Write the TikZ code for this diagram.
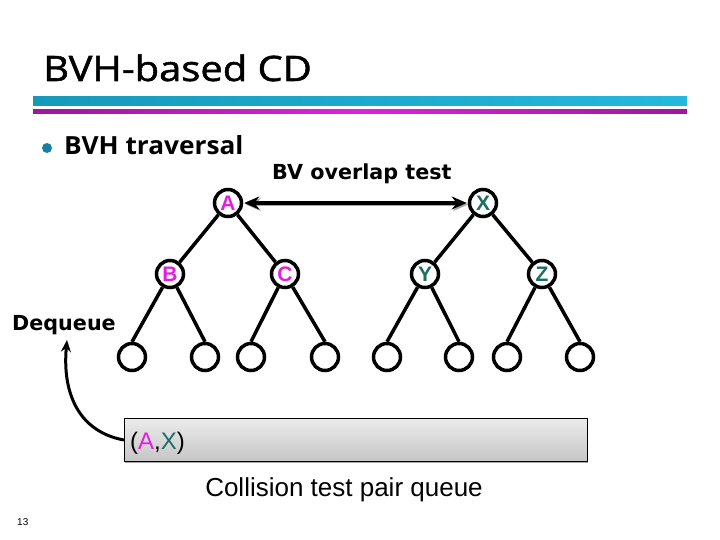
\documentclass[tikz,border=0pt]{standalone}
\usepackage{fontspec}
\setmainfont{Liberation Sans}
\newfontfamily\titlefont[FakeStretch=1.14,FakeBold=1.5]{Open Sans}
\newfontfamily\bulfont[FakeStretch=1.05]{Open Sans}
\newfontfamily\verd{DejaVu Sans}
\usetikzlibrary{arrows.meta,shadings}
\definecolor{mag}{HTML}{E020E0}
\definecolor{tea}{HTML}{1E6E64}
\definecolor{cyb}{HTML}{19B5DB}
\definecolor{bul}{HTML}{1A7FA0}
\tikzset{
  tnode/.style={circle,draw=black,line width=3.5pt,minimum size=27pt,inner sep=0pt,fill=white,font=\bfseries\fontsize{21}{21}\selectfont},
  leaf/.style={circle,draw=black,line width=3.5pt,minimum size=27pt,inner sep=0pt,fill=white},
  edge/.style={line width=3.5pt,black},
  lbl/.style={font=\verd\bfseries\fontsize{20.7}{22}\selectfont,inner sep=0pt}
}
\begin{document}
\begin{tikzpicture}[x=1pt,y=-1pt]
\useasboundingbox (0,0) rectangle (720,540);
\fill[white] (0,0) rectangle (720,540);
% title
\node[anchor=base west,inner sep=0pt,font=\titlefont\fontsize{35}{40}\selectfont] (title) at (43,81) {BVH-based CD};
\shade[left color=cyb!85!black,right color=cyb!95!white] (33,97) rectangle (687,106);
\shade[left color=mag!70!black,right color=mag!70!black,middle color=mag] (33,110) rectangle (687,114);
% bullet
\fill[bul] (47,148) circle (5);
\node[anchor=base west,inner sep=0pt,font=\bulfont\bfseries\fontsize{25}{28}\selectfont] (bul) at (64,155) {BVH traversal};
% tree
\node[tnode,text=mag] (A) at (228,203) {A};
\node[tnode,text=tea] (X) at (483,203) {X};
\node[tnode,text=mag] (B) at (170,274) {B};
\node[tnode,text=mag] (C) at (285,274) {C};
\node[tnode,text=tea] (Y) at (425,274) {Y};
\node[tnode,text=tea] (Z) at (542,274) {Z};
\foreach \n/\x in {l1/132,l2/205,l3/251,l4/325,l5/387,l6/459,l7/507,l8/580}
  \node[leaf] (\n) at (\x,357) {};
\draw[edge] (A) -- (B); \draw[edge] (A) -- (C);
\draw[edge] (X) -- (Y); \draw[edge] (X) -- (Z);
\draw[edge] (B) -- (l1.north); \draw[edge] (B) -- (l2.north);
\draw[edge] (C) -- (l3.north); \draw[edge] (C) -- (l4.north);
\draw[edge] (Y) -- (l5.north); \draw[edge] (Y) -- (l6.north);
\draw[edge] (Z) -- (l7.north); \draw[edge] (Z) -- (l8.north);
% overlap arrow
\draw[line width=3.5pt,gray!70,{Stealth[length=15pt,width=13pt]}-{Stealth[length=15pt,width=13pt]},shorten <=1pt,shorten >=1pt] ([shift={(1.5,1.5)}]A.east) -- ([shift={(1.5,1.5)}]X.west);
\draw[line width=3.5pt,black,{Stealth[length=15pt,width=13pt]}-{Stealth[length=15pt,width=13pt]},shorten <=1pt,shorten >=1pt] (A.east) -- (X.west);
\node[lbl,anchor=base west] (bvo) at (272,180) {BV overlap test};
% queue
\fill[gray!70] (125,421) rectangle (588,463);
\shade[top color=gray!15,bottom color=gray!45,draw=black,line width=0.8pt] (124,418) rectangle (587,461);
\node[anchor=base west,inner sep=0pt,font=\fontsize{24}{26}\selectfont] (pair) at (130,449) {(\textcolor{mag}{A},\textcolor{tea}{X})};
\coordinate (qw) at (124,440);
\node[anchor=base,inner sep=0pt,font=\fontsize{26}{28}\selectfont] (cap) at (344,496) {Collision test pair queue};
\node[lbl,anchor=base west] (deq) at (12,330) {Dequeue};
\coordinate (dtip) at (67,340);
\draw[line width=3pt,-{Stealth[length=12pt,width=10pt]}] (qw) .. controls (80,432) and (62,395) .. (dtip);
\node[anchor=base west,inner sep=0pt,font=\fontsize{10}{12}\selectfont] (pg) at (17,525) {13};
\end{tikzpicture}
\end{document}
